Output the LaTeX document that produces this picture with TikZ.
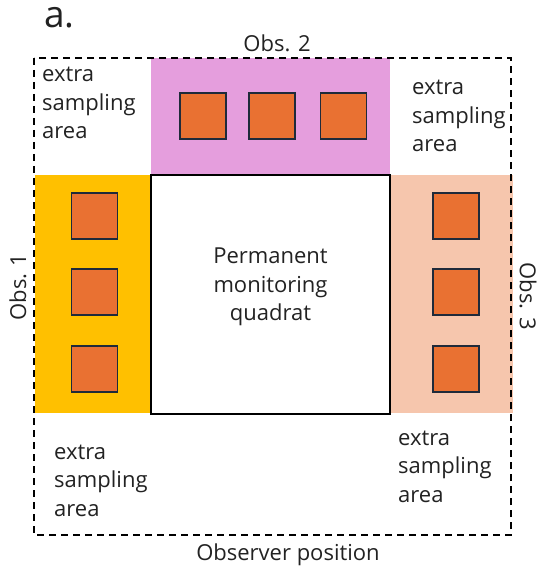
\documentclass[tikz,border=0pt]{standalone}
\usepackage{fontspec}
\setmainfont{Open Sans}
\definecolor{pinkobs}{HTML}{E59EDD}
\definecolor{yellowobs}{HTML}{FFC000}
\definecolor{peachobs}{HTML}{F6C6AD}
\definecolor{quadfill}{HTML}{E97132}
\definecolor{quadline}{HTML}{1F2A3A}
\definecolor{txt}{HTML}{222222}
\tikzset{
  quad/.style={fill=quadfill, draw=quadline, line width=1.8pt},
  lbl/.style={inner sep=0pt, font=\fontsize{22}{28.5}\selectfont, text=txt, align=left, anchor=base west},
  clbl/.style={inner sep=0pt, font=\fontsize{22}{28.5}\selectfont, text=txt, align=center},
}
\begin{document}
\begin{tikzpicture}[x=1pt,y=-1pt]
\useasboundingbox (0,0) rectangle (539,569);
% observer strips
\fill[pinkobs] (151,58) rectangle (390,175);
\fill[yellowobs] (35,175) rectangle (151,413);
\fill[peachobs] (390,175) rectangle (513,413);
% permanent quadrat
\node[draw=black, line width=1.5pt, fill=white, minimum width=239pt, minimum height=239pt, inner sep=0pt] (pq) at (270.5,294.5) {};
\node[clbl] (pqt) at (270.5,287) {Permanent\\monitoring\\quadrat};
% squares
\node[quad, minimum size=46pt, inner sep=0pt] (s1) at (203,116) {};
\node[quad, minimum size=46pt, inner sep=0pt] (s2) at (272,116) {};
\node[quad, minimum size=46pt, inner sep=0pt] (s3) at (343.5,116) {};
\node[quad, minimum size=46pt, inner sep=0pt] (l1) at (94.5,216) {};
\node[quad, minimum size=46pt, inner sep=0pt] (l2) at (94.5,292) {};
\node[quad, minimum size=46pt, inner sep=0pt] (l3) at (94.5,369) {};
\node[quad, minimum size=46pt, inner sep=0pt] (r1) at (456,216) {};
\node[quad, minimum size=46pt, inner sep=0pt] (r2) at (456,292) {};
\node[quad, minimum size=46pt, inner sep=0pt] (r3) at (456,369) {};
% dashed outline
\draw[line width=1.8pt, dash pattern=on 7pt off 5pt] (34,58) rectangle (511,535);
% extra sampling labels (anchor = baseline of last line)
\node[lbl] (tl) at (42,139) {extra\\sampling\\area};
\node[lbl] (tr) at (412,152) {extra\\sampling\\area};
\node[lbl] (bl) at (54,516) {extra\\sampling\\area};
\node[lbl] (br) at (398,502) {extra\\sampling\\area};
% observer labels
\node[clbl, anchor=base] (o2) at (277,52) {Obs. 2};
\node[clbl, rotate=90] (o1) at (18,287) {Obs. 1};
\node[clbl, rotate=-90] (o3) at (528,296) {Obs. 3};
\node[clbl, anchor=base] (op) at (288,560) {Observer position};
\node[inner sep=0pt, font=\fontsize{37}{40}\selectfont, text=txt, anchor=base west] (a) at (44,28) {a.};
\end{tikzpicture}
\end{document}
